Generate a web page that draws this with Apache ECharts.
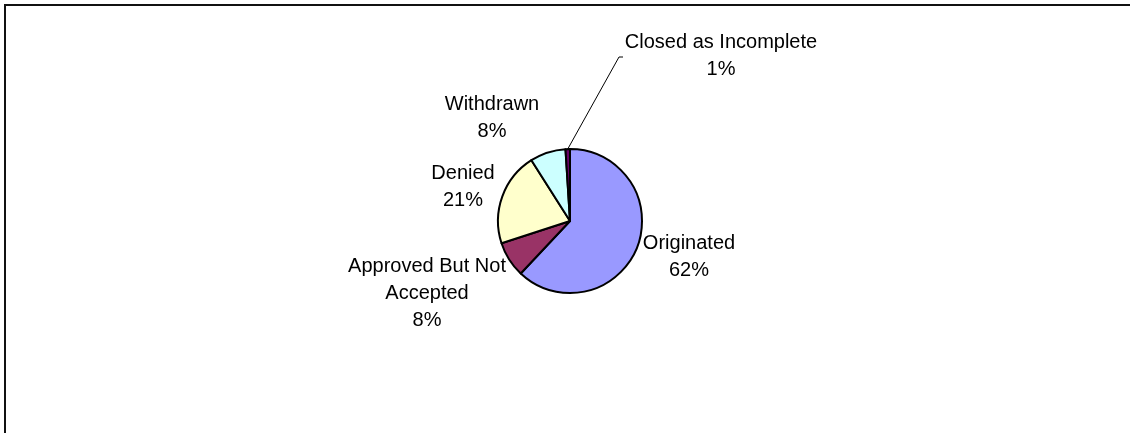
<!DOCTYPE html>
<html>
<head>
<meta charset="utf-8">
<style>
  html, body { margin: 0; padding: 0; background: #fff; }
  #chart { width: 1130px; height: 433px; }
</style>
<script src="https://cdn.jsdelivr.net/npm/echarts@6/dist/echarts.min.js"></script>
</head>
<body>
<div id="chart"></div>
<script>
// Loan application outcomes (share of applications)
const categories = ['Originated', 'Approved But Not\nAccepted', 'Denied', 'Withdrawn', 'Closed as Incomplete'];
const values = [62, 8, 21, 8, 1];
const colors = ['#9999FF', '#993366', '#FFFFCC', '#CCFFFF', '#660066'];

// Where each label block sits (centre of the text block, px)
const labelSpots = [
  [689, 257],
  [427, 293],
  [463, 187],
  [492, 118],
  [721, 56]
];
// Leader line for the thin slice: elbow and end point
const leaderTail = [[619, 57], [623, 57]];

const chart = echarts.init(document.getElementById('chart'), null, { renderer: 'canvas' });

const font = "'Liberation Sans', Arial, sans-serif";

chart.setOption({
  backgroundColor: '#ffffff',
  animation: false,
  graphic: [{
    type: 'rect',
    shape: { x: 5, y: 5, width: 1200, height: 500 },
    style: { fill: 'none', stroke: '#111', lineWidth: 2 },
    silent: true
  }],
  series: [{
    type: 'pie',
    center: [570, 221],
    radius: 72,
    startAngle: 90,
    clockwise: true,
    avoidLabelOverlap: false,
    itemStyle: { borderColor: '#000', borderWidth: 2 },
    label: {
      show: true,
      position: 'outside',
      formatter: '{b}\n{d}%',
      color: '#000',
      fontFamily: font,
      fontSize: 20,
      lineHeight: 27,
      align: 'center'
    },
    labelLine: { show: false, lineStyle: { color: '#000', width: 1 } },
    labelLayout: function (params) {
      const i = params.dataIndex;
      const out = {
        x: labelSpots[i][0],
        y: labelSpots[i][1],
        align: 'center',
        verticalAlign: 'middle'
      };
      if (i === categories.length - 1 && params.labelLinePoints) {
        out.labelLinePoints = [params.labelLinePoints[0], leaderTail[0], leaderTail[1]];
      }
      return out;
    },
    data: categories.map((name, i) => ({
      name: name,
      value: values[i],
      itemStyle: { color: colors[i] },
      labelLine: { show: i === categories.length - 1, length: 10, length2: 10 }
    }))
  }]
});
</script>
</body>
</html>
